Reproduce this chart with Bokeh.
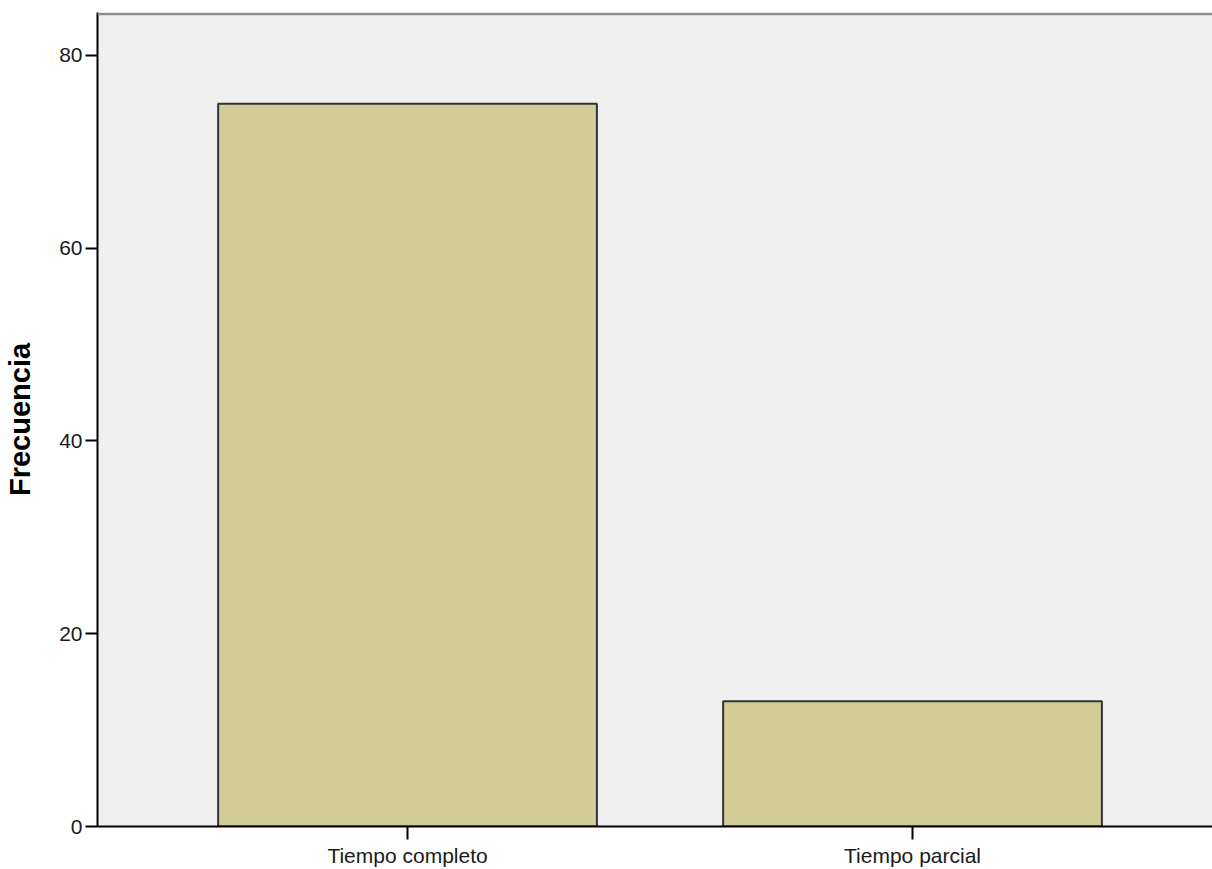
from bokeh.plotting import figure
from bokeh.models import Range1d, FixedTicker, Span
from bokeh.embed import file_html
from bokeh.resources import INLINE

categories = ["Tiempo completo", "Tiempo parcial"]
frequencies = [75, 13]
y_ticks = [0, 20, 40, 60, 80]

xs = list(range(1, len(categories) + 1))

p = figure(width=1212, height=869, output_backend="svg", toolbar_location=None,
           x_range=Range1d(0.3861, 2.594), y_range=Range1d(0, 84.46),
           min_border_left=97, min_border_top=12, min_border_right=0, min_border_bottom=42)

p.vbar(x=xs, top=frequencies, width=0.75, bottom=0,
       fill_color="#d2cd97", line_color="#333333", line_width=2)

p.background_fill_color = "#f0f0f0"
p.border_fill_color = "white"
p.outline_line_color = None
p.xgrid.grid_line_color = None
p.ygrid.grid_line_color = None

p.add_layout(Span(location=84.3, dimension="width", line_color="#8c8c8c", line_width=2.5))

p.xaxis.ticker = FixedTicker(ticks=xs)
p.xaxis.major_label_overrides = {x: c for x, c in zip(xs, categories)}
p.yaxis.ticker = FixedTicker(ticks=y_ticks)

for ax in (p.xaxis[0], p.yaxis[0]):
    ax.axis_line_color = "black"
    ax.axis_line_width = 2
    ax.major_tick_line_color = "black"
    ax.major_tick_line_width = 2
    ax.major_tick_in = 0
    ax.minor_tick_line_color = None
    ax.major_label_text_font = "Liberation Sans"
    ax.major_label_text_font_size = "21px"
    ax.major_label_text_color = "#1a1a1a"

p.xaxis.major_tick_out = 13
p.xaxis.major_label_standoff = 4
p.yaxis.major_tick_out = 12
p.yaxis.major_label_standoff = 3

p.yaxis.axis_label = "Frecuencia"
p.yaxis.axis_label_text_font = "Liberation Sans"
p.yaxis.axis_label_text_font_style = "bold"
p.yaxis.axis_label_text_font_size = "29px"
p.yaxis.axis_label_text_color = "black"
p.yaxis.axis_label_standoff = 20

open("out.html", "w").write(file_html(p, INLINE))
